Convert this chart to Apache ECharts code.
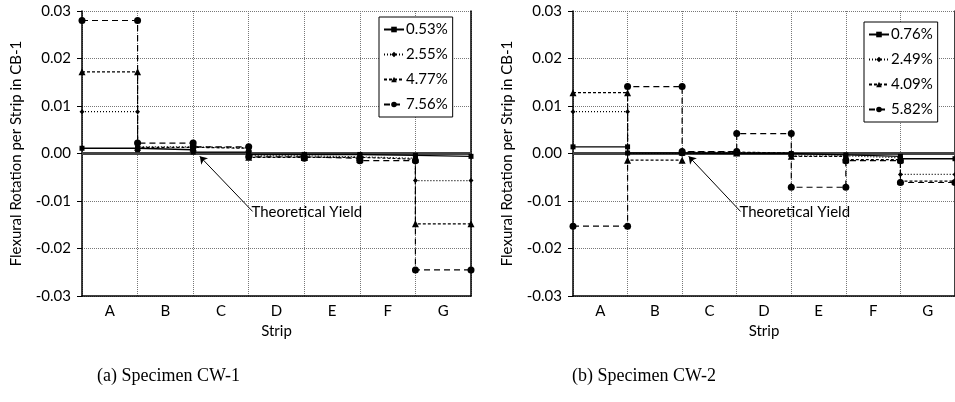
<!DOCTYPE html>
<html>
<head>
<meta charset="utf-8">
<script src="https://cdn.jsdelivr.net/npm/echarts@6/dist/echarts.min.js"></script>
<style>
  html, body { margin: 0; padding: 0; background: #fff; }
  #chart { width: 955px; height: 402px; }
</style>
</head>
<body>
<div id="chart"></div>
<script>
// strips and tick labels
const strips = ['A', 'B', 'C', 'D', 'E', 'F', 'G'];
const yTicks = ['-0.03', '-0.02', '-0.01', '0.00', '0.01', '0.02', '0.03'];

// CW-1 drift levels
const cw1Names = ['0.53%', '2.55%', '4.77%', '7.56%'];
const cw1_053 = [0.0011, 0.0008, 0.0003, -0.0002, -0.0002, -0.0004, -0.0006];
const cw1_255 = [0.0088, 0.0014, 0.0012, -0.0005, -0.0007, -0.0010, -0.0057];
const cw1_477 = [0.0172, 0.0013, 0.0011, -0.0008, -0.0008, -0.0012, -0.0148];
const cw1_756 = [0.0280, 0.0022, 0.0014, -0.0007, -0.0010, -0.0015, -0.0245];

// CW-2 drift levels
const cw2Names = ['0.76%', '2.49%', '4.09%', '5.82%'];
const cw2_076 = [0.0014, 0.0001, 0.0000, 0.0000, -0.0003, -0.0006, -0.0011];
const cw2_249 = [0.0088, 0.0000, 0.0002, 0.0001, -0.0005, -0.0009, -0.0044];
const cw2_409 = [0.0128, -0.0014, 0.0003, 0.0001, -0.0006, -0.0013, -0.0058];
const cw2_582 = [-0.0153, 0.0141, 0.0004, 0.0042, -0.0071, -0.0015, -0.0061];

// theoretical yield
const yieldCW1 = 0;
const yieldCW2 = 0;

const font = 'Lato';
const looks = [
  { symbol: 'rect', size: 5, dash: 'solid', width: 1.4 },
  { symbol: 'diamond', size: 5, dash: [1, 2], width: 1.2 },
  { symbol: 'triangle', size: 7, dash: [3, 2], width: 1.2 },
  { symbol: 'circle', size: 7, dash: [6, 4], width: 1.2 }
];

// each strip becomes a flat segment between its two boundaries
function steps(vals) {
  const pts = [];
  vals.forEach((v, i) => { pts.push([i, v]); pts.push([i + 1, v]); });
  return pts;
}

function makeSeries(name, vals, k, gi) {
  const l = looks[k];
  return {
    name: name, type: 'line', xAxisIndex: gi * 2, yAxisIndex: gi * 2,
    data: steps(vals), symbol: l.symbol, symbolSize: l.size, showSymbol: true,
    itemStyle: { color: '#000' },
    lineStyle: { color: '#000', width: l.width, type: l.dash },
    animation: false, z: 5 + k
  };
}

function yieldSeries(val, gi) {
  return {
    name: 'yield' + gi, type: 'line', xAxisIndex: gi * 2, yAxisIndex: gi * 2,
    data: [[0, val], [7, val]], symbol: 'none',
    lineStyle: { color: '#444', width: 3 }, animation: false, z: 4,
    markLine: {
      silent: true, symbol: ['none', 'arrow'], symbolSize: 7,
      lineStyle: { color: '#000', width: 1, type: 'solid' },
      label: { show: false },
      data: [[{ coord: [3.07, -0.0122] }, { coord: [2.12, -0.0006] }]]
    },
    markPoint: {
      silent: true, symbol: 'circle', symbolSize: 0,
      label: { show: true, position: 'right', distance: 0, formatter: 'Theoretical Yield',
               color: '#000', fontFamily: font, fontSize: 15 },
      data: [{ coord: [3.05, -0.0124] }]
    }
  };
}

function xAxes(gi) {
  return [
    { type: 'value', gridIndex: gi, min: 0, max: 7, interval: 1,
      axisLine: { show: true, onZero: false, lineStyle: { color: '#000', width: 1.5 } },
      axisTick: { show: false }, axisLabel: { show: false },
      splitLine: { show: true, lineStyle: { color: '#777', type: [1, 1], width: 1 } } },
    { type: 'category', gridIndex: gi, data: strips, boundaryGap: true, position: 'bottom',
      axisLine: { show: false }, axisTick: { show: false }, splitLine: { show: false },
      axisLabel: { margin: 8, color: '#000', fontFamily: font, fontSize: 15 },
      name: 'Strip', nameLocation: 'middle', nameGap: 27,
      nameTextStyle: { color: '#000', fontFamily: font, fontSize: 15 } }
  ];
}

function yAxes(gi) {
  return [
    { type: 'value', gridIndex: gi, min: -0.03, max: 0.03, interval: 0.01,
      axisLine: { show: true, lineStyle: { color: '#000', width: 1.5 } },
      axisTick: { show: true, inside: false, length: 5, lineStyle: { color: '#000' } },
      axisLabel: { margin: 11, color: '#000', fontFamily: font, fontSize: 15,
                   formatter: v => yTicks[Math.round(v * 100) + 3] },
      splitLine: { show: true, lineStyle: { color: '#777', type: [1, 1], width: 1 } },
      name: 'Flexural Rotation per Strip in CB-1', nameLocation: 'middle', nameGap: 58,
      nameTextStyle: { color: '#000', fontFamily: font, fontSize: 15 } },
    { type: 'value', gridIndex: gi, min: -0.03, max: 0.03, position: 'right',
      axisLine: { show: true, lineStyle: { color: '#000', width: 1.5 } },
      axisTick: { show: false }, axisLabel: { show: false }, splitLine: { show: false } }
  ];
}

function legend(names, left, top) {
  return {
    data: names, orient: 'vertical', left: left, top: top, selectedMode: false,
    backgroundColor: '#fff', borderColor: '#000', borderWidth: 1, borderRadius: 0,
    padding: [5, 5, 5, 4], itemGap: 10, itemWidth: 20, itemHeight: 7,
    textStyle: { color: '#000', fontFamily: font, fontSize: 15, padding: [0, 0, 0, -3] }
  };
}

const chart = echarts.init(document.getElementById('chart'));
chart.setOption({
  backgroundColor: '#fff',
  animation: false,
  grid: [
    { left: 82, top: 11, width: 389, height: 285 },
    { left: 573, top: 11, width: 390, height: 285 }
  ],
  xAxis: [...xAxes(0), ...xAxes(1)],
  yAxis: [...yAxes(0), ...yAxes(1)],
  legend: [legend(cw1Names, 379, 17), legend(cw2Names, 864, 22)],
  series: [
    yieldSeries(yieldCW1, 0),
    makeSeries(cw1Names[0], cw1_053, 0, 0),
    makeSeries(cw1Names[1], cw1_255, 1, 0),
    makeSeries(cw1Names[2], cw1_477, 2, 0),
    makeSeries(cw1Names[3], cw1_756, 3, 0),
    yieldSeries(yieldCW2, 1),
    makeSeries(cw2Names[0], cw2_076, 0, 1),
    makeSeries(cw2Names[1], cw2_249, 1, 1),
    makeSeries(cw2Names[2], cw2_409, 2, 1),
    makeSeries(cw2Names[3], cw2_582, 3, 1)
  ],
  graphic: [
    { type: 'text', left: 97, top: 367,
      style: { text: '(a) Specimen CW-1', fill: '#000', font: '18px "Liberation Serif"' } },
    { type: 'text', left: 572, top: 367,
      style: { text: '(b) Specimen CW-2', fill: '#000', font: '18px "Liberation Serif"' } }
  ]
});
</script>
</body>
</html>
